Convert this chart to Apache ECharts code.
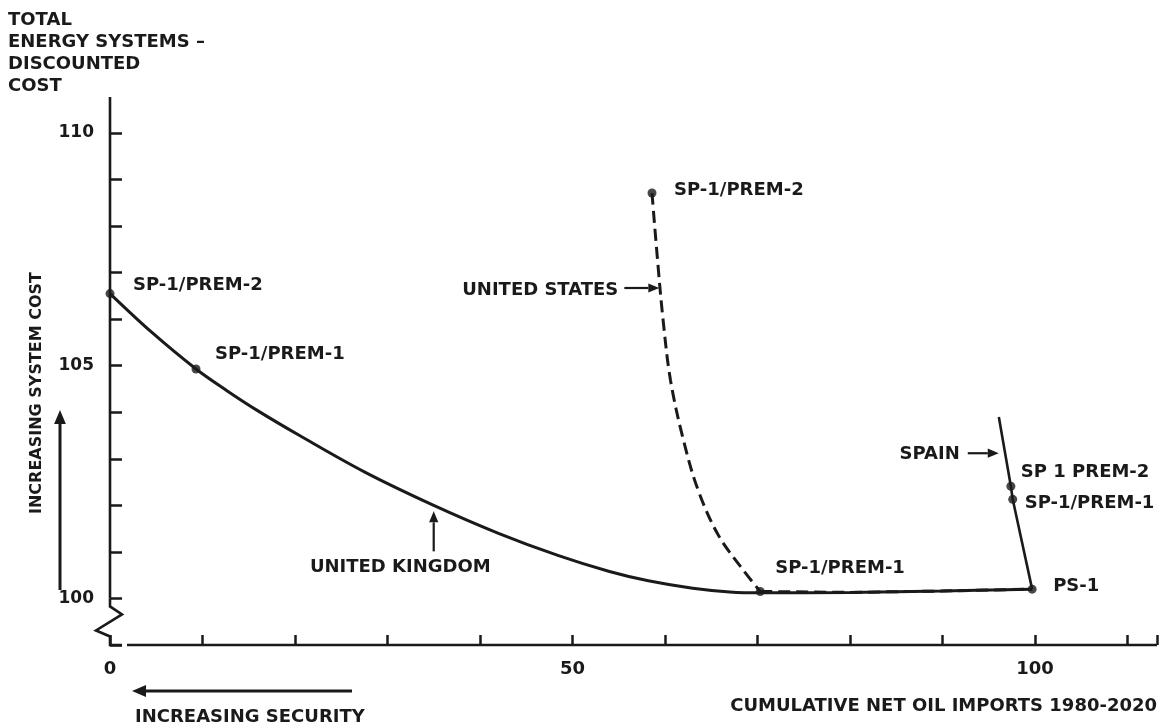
<!DOCTYPE html>
<html>
<head>
<meta charset="utf-8">
<script src="https://cdn.jsdelivr.net/npm/echarts@6/dist/echarts.min.js"></script>
<style>
html,body{margin:0;padding:0;background:#ffffff;}
#chart{width:1160px;height:728px;}
</style>
</head>
<body>
<div id="chart"></div>
<script>
// ---------------- DATA ----------------
const xTickLabels = [0, 50, 100];
const yTickLabels = [100, 105, 110];

const ukX = [0, 4.5, 9.3, 12.6, 16, 20.5, 27.5, 35, 42, 48.5, 54, 58.2, 63, 67, 70.3, 80, 90, 99.7];
const ukY = [106.55, 105.72, 104.93, 104.47, 104.03, 103.5, 102.72, 102.0, 101.4, 100.92, 100.58, 100.38, 100.22, 100.14, 100.12, 100.13, 100.16, 100.2];

// United States: curved part down to SP-1/PREM-1, then along the base to PS-1
const usCurveX = [58.6, 59.2, 59.8, 60.6, 62.0, 63.6, 65.8, 68.5, 70.3];
const usCurveY = [108.71, 107.27, 105.98, 104.69, 103.4, 102.32, 101.35, 100.6, 100.15];
const usBaseX = [70.3, 80, 90, 99.7];
const usBaseY = [100.15, 100.13, 100.16, 100.2];

const spainX = [96.1, 97.4, 97.6, 99.7];
const spainY = [103.9, 102.41, 102.13, 100.2];

const ukMarkX = [0, 9.3];
const ukMarkY = [106.55, 104.93];
const ukMarkLabels = ['SP-1/PREM-2', 'SP-1/PREM-1'];

const usMarkX = [58.6, 70.3];
const usMarkY = [108.71, 100.15];
const usMarkLabels = ['SP-1/PREM-2', 'SP-1/PREM-1'];

const spainMarkX = [97.4, 97.6, 99.7];
const spainMarkY = [102.41, 102.13, 100.2];
const spainMarkLabels = ['SP 1 PREM-2', 'SP-1/PREM-1', 'PS-1'];

const countryNames = ['UNITED KINGDOM', 'UNITED STATES', 'SPAIN'];
const yTitleLines = ['TOTAL', 'ENERGY SYSTEMS –', 'DISCOUNTED', 'COST'];
const xTitle = 'CUMULATIVE NET OIL IMPORTS 1980-2020';
const yArrowText = 'INCREASING SYSTEM COST';
const xArrowText = 'INCREASING SECURITY';

// ---------------- STYLE / LAYOUT ----------------
const INK = '#1a1a1a';
const FAMILY = '"DejaVu Sans", sans-serif';

const chart = echarts.init(document.getElementById('chart'));

const pairs = (xs, ys) => xs.map((x, i) => [x, ys[i]]);

const option = {
  animation: false,
  backgroundColor: '#ffffff',
  grid: {left: 110, top: 133, width: 1050, height: 512},
  xAxis: {
    type: 'value', min: 0, max: 113.2, interval: 10,
    axisLine: {show: false},
    splitLine: {show: false},
    axisTick: {show: true, inside: true, length: 10, lineStyle: {color: INK, width: 2.5}},
    axisLabel: {
      margin: 15, color: INK, fontFamily: FAMILY, fontWeight: 'bold', fontSize: 18,
      formatter: v => xTickLabels.includes(Math.round(v * 100) / 100) ? String(Math.round(v)) : ''
    }
  },
  yAxis: {
    type: 'value', min: 99, max: 110, interval: 1,
    axisLine: {show: false},
    splitLine: {show: false},
    axisTick: {show: true, inside: true, length: 12, lineStyle: {color: INK, width: 2.5}},
    axisLabel: {
      margin: 16, color: INK, fontFamily: FAMILY, fontWeight: 'bold', fontSize: 17,
      formatter: v => yTickLabels.includes(Math.round(v * 100) / 100) ? String(Math.round(v)) : ''
    }
  },
  series: [
    {type: 'line', data: pairs(ukX, ukY), smooth: 0.35, symbol: 'none', clip: false,
      lineStyle: {color: INK, width: 3}, z: 3},
    {type: 'line', data: pairs(usCurveX, usCurveY), smooth: 0.35, symbol: 'none', clip: false,
      lineStyle: {color: INK, width: 3, type: [12, 6]}, z: 4},
    {type: 'line', data: pairs(usBaseX, usBaseY), symbol: 'none', clip: false,
      lineStyle: {color: INK, width: 3, type: [12, 6]}, z: 4},
    {type: 'line', data: pairs(spainX, spainY), symbol: 'none', clip: false,
      lineStyle: {color: INK, width: 2.6}, z: 3},
    {type: 'scatter', symbolSize: 9, itemStyle: {color: INK}, z: 5,
      data: pairs(ukMarkX, ukMarkY).concat(pairs(usMarkX, usMarkY), pairs(spainMarkX, spainMarkY))}
  ]
};
chart.setOption(option);

// ---------------- ANNOTATIONS (text, arrows, axis lines with break) ----------------
const P = (x, y) => chart.convertToPixel({gridIndex: 0}, [x, y]);

function text(str, x, y, align, size, rot) {
  return {
    type: 'text', x: x, y: y, rotation: rot || 0, z: 10,
    style: {text: str, x: 0, y: 0, fill: INK, font: 'bold ' + (size || 18) + 'px ' + FAMILY,
      align: align || 'left', verticalAlign: 'middle'}
  };
}
function arrow(x1, y1, x2, y2, w, hl) {
  const a = Math.atan2(y2 - y1, x2 - x1);
  const hw = hl * 0.42;
  const bx = x2 - hl * Math.cos(a), by = y2 - hl * Math.sin(a);
  const px = -Math.sin(a) * hw, py = Math.cos(a) * hw;
  return [
    {type: 'line', z: 10, shape: {x1: x1, y1: y1, x2: bx, y2: by}, style: {stroke: INK, lineWidth: w}},
    {type: 'polygon', z: 10, shape: {points: [[x2, y2], [bx + px, by + py], [bx - px, by - py]]}, style: {fill: INK}}
  ];
}

const g = [];
const o100 = P(0, 100), o99 = P(0, 99), o110 = P(0, 110), xEnd = P(113.2, 99);
// y axis line
g.push({type: 'line', z: 6, shape: {x1: o100[0], y1: o110[1] - 36, x2: o100[0], y2: o100[1]},
  style: {stroke: INK, lineWidth: 2.6}});
// axis break
g.push({type: 'polyline', z: 6, shape: {points: [
  [o100[0], o100[1]], [o100[0], o100[1] + 8], [o100[0] + 12, o100[1] + 16],
  [o100[0] - 14, o100[1] + 32], [o100[0], o100[1] + 38], [o99[0], o99[1]], [o99[0] + 12, o99[1]]
]}, style: {stroke: INK, lineWidth: 2.6, fill: null}});
// x axis line
g.push({type: 'line', z: 6, shape: {x1: o99[0] + 17, y1: o99[1], x2: xEnd[0], y2: xEnd[1]},
  style: {stroke: INK, lineWidth: 2.6}});

// y title
yTitleLines.forEach((t, i) => g.push(text(t, 8, 20 + i * 22, 'left', 18)));
// x title
g.push(text(xTitle, 1157, 706, 'right', 18));
// increasing security
g.push(text(xArrowText, 135, 717, 'left', 18));
g.push(...arrow(352, 691, 132, 691, 3, 14));
// increasing system cost
g.push(text(yArrowText, 37, 393, 'center', 16, Math.PI / 2));
g.push(...arrow(60, 590, 60, 410, 3, 14));

// point labels
const ukOff = [[23, -8], [19, -15]];
ukMarkLabels.forEach((t, i) => { const p = P(ukMarkX[i], ukMarkY[i]); g.push(text(t, p[0] + ukOff[i][0], p[1] + ukOff[i][1])); });
const usOff = [[22, -3], [15, -23]];
usMarkLabels.forEach((t, i) => { const p = P(usMarkX[i], usMarkY[i]); g.push(text(t, p[0] + usOff[i][0], p[1] + usOff[i][1])); });
const spOff = [[10, -14], [12, 4], [21, -3]];
spainMarkLabels.forEach((t, i) => { const p = P(spainMarkX[i], spainMarkY[i]); g.push(text(t, p[0] + spOff[i][0], p[1] + spOff[i][1])); });

// country labels with arrows
const ukA = P(35, 102.0);
g.push(...arrow(ukA[0], ukA[1] + 46, ukA[0], ukA[1] + 6, 2.2, 11));
g.push(text(countryNames[0], ukA[0] + 57, ukA[1] + 62, 'right'));
const usA = P(59.5, 106.67);
g.push(...arrow(usA[0] - 36, usA[1], usA[0] - 1, usA[1], 2.2, 11));
g.push(text(countryNames[1], usA[0] - 42, usA[1] + 2, 'right'));
const spA = P(96.2, 103.12);
g.push(...arrow(spA[0] - 32, spA[1], spA[0] - 1, spA[1], 2.2, 11));
g.push(text(countryNames[2], spA[0] - 40, spA[1] + 1, 'right'));

chart.setOption({graphic: {elements: g}});
</script>
</body>
</html>
